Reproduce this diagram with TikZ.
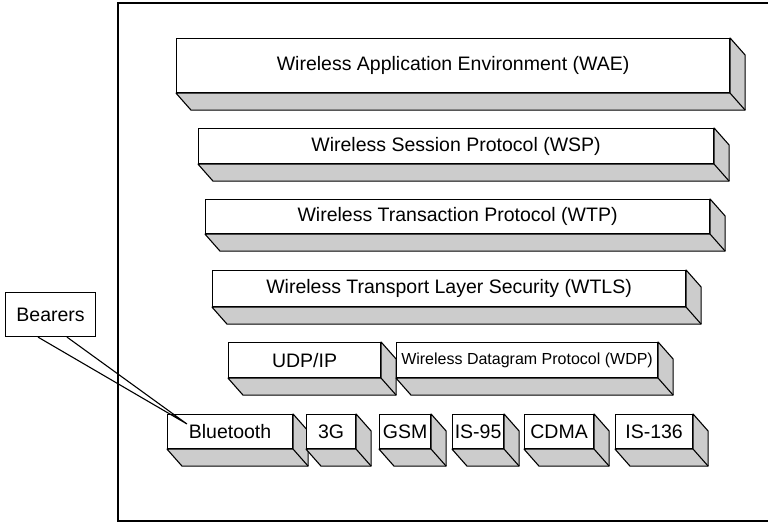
\documentclass[tikz,border=0pt]{standalone}
\usepackage{fontspec}
\setmainfont{Liberation Sans}
\usetikzlibrary{calc,positioning}
\definecolor{SlabGray}{RGB}{204,204,204}

\tikzset{
	front/.style={draw, line width=1.1pt, fill=white, anchor=north west, inner sep=0pt,
		font=\fontsize{19.5}{22}\selectfont},
	side/.style={draw, line width=1.1pt, fill=SlabGray, line join=round},
}
% #1 name, #2 left, #3 top, #4 right, #5 bottom, #6 text
\newcommand{\slab}[6]{%
	\node[front, minimum width={#4pt-#2pt}, minimum height={#5pt-#3pt}] (#1) at (#2,#3) {#6};
	\draw[side] (#1.south west) -- ++(15,17) -- ($(#1.south east)+(15,17)$)
		-- ($(#1.north east)+(15,17)$) -- (#1.north east) -- (#1.south east) -- cycle;
	\draw[line width=1.1pt] (#1.south east) -- ++(15,17);
}

\begin{document}
\begin{tikzpicture}[x=1pt, y=-1pt]
	\useasboundingbox (0,0) rectangle (768,523);
	\draw[line width=1.8pt] (118,3) rectangle (800,521);
	% protocol stack
	\slab{wae}{176}{38}{729}{92}{Wireless Application Environment (WAE)}
	\slab{wsp}{198}{128}{713}{163}{Wireless Session Protocol (WSP)}
	\slab{wtp}{205}{199}{709}{233}{Wireless Transaction Protocol (WTP)}
	\slab{wtls}{212}{270}{685}{306}{Wireless Transport Layer Security (WTLS)}
	\slab{udp}{228}{342}{380}{377}{UDP/IP}
	\slab{wdp}{396}{342}{657}{377}{\fontsize{16}{18}\selectfont Wireless Datagram Protocol (WDP)}
	% bearers
	\slab{bt}{167}{414}{292}{448}{Bluetooth}
	\slab{g3}{306}{414}{355}{448}{3G}
	\slab{gsm}{379}{414}{430}{448}{GSM}
	\slab{is95}{452}{414}{503}{448}{IS-95}
	\slab{cdma}{524}{414}{593}{448}{CDMA}
	\slab{is136}{615}{414}{692}{448}{IS-136}
	% callout
	\node[front, minimum width=90pt, minimum height=44pt] (bearers) at (5,292) {Bearers};
	\coordinate (tip) at (187,424);
	\draw[line width=1.1pt] ($(bearers.south west)+(33,0)$) -- (tip)
		-- ($(bearers.south west)+(62,0)$);
\end{tikzpicture}
\end{document}
